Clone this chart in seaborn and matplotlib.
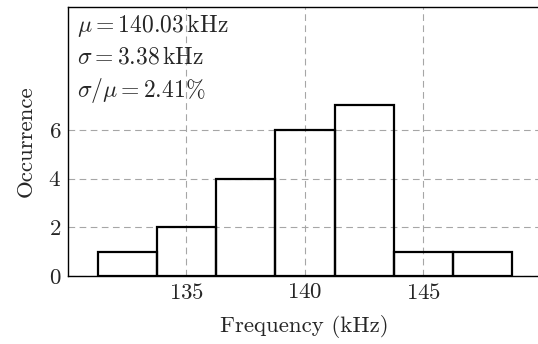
import numpy as np
import seaborn as sns
import matplotlib.pyplot as plt

# histogram data
bin_edges = [131.26, 133.76, 136.26, 138.76, 141.26, 143.76, 146.26, 148.76]
counts = [1, 2, 4, 6, 7, 1, 1]
x_ticks = [135, 140, 145]
y_ticks = [0, 2, 4, 6]
stats_lines = [r"$\mu = 140.03\,\mathrm{kHz}$",
               r"$\sigma = 3.38\,\mathrm{kHz}$",
               r"$\sigma/\mu = 2.41\%$"]

sns.set_style("white")
plt.rcParams['font.family'] = ['serif']
plt.rcParams['font.serif'] = ['cmr10', 'DejaVu Serif']
plt.rcParams['mathtext.fontset'] = 'cm'
plt.rcParams['axes.formatter.use_mathtext'] = True

centers = [(a + b) / 2 for a, b in zip(bin_edges[:-1], bin_edges[1:])]

fig = plt.figure(figsize=(5.38, 3.44), dpi=100)
ax = fig.add_axes([68 / 538, 68 / 344, 473.5 / 538, 269.3 / 344])

ax.grid(True, color='#a6a6a6', linestyle=(0, (6, 4)), linewidth=0.8)
ax.set_axisbelow(True)

sns.histplot(x=centers, weights=counts, bins=bin_edges, fill=False,
             color='black', linewidth=1.6, ax=ax)

ax.set_xlim(130.0, 150.0)
ax.set_ylim(0, 11.05)
ax.set_xticks(x_ticks)
ax.set_yticks(y_ticks)
ax.tick_params(length=0, labelsize=16.5, pad=5)
for s in ax.spines.values():
    s.set_color('black')
    s.set_linewidth(1.0)

ax.set_xlabel("Frequency (kHz)", fontsize=16.5, labelpad=9)
ax.set_ylabel("Occurrence", fontsize=16.5, labelpad=9)

for i, line in enumerate(stats_lines):
    ax.text(0.02, 0.93 - i * 0.12, line, transform=ax.transAxes,
            fontsize=17, va='center', ha='left')

fig.savefig("out.png", dpi=100)
